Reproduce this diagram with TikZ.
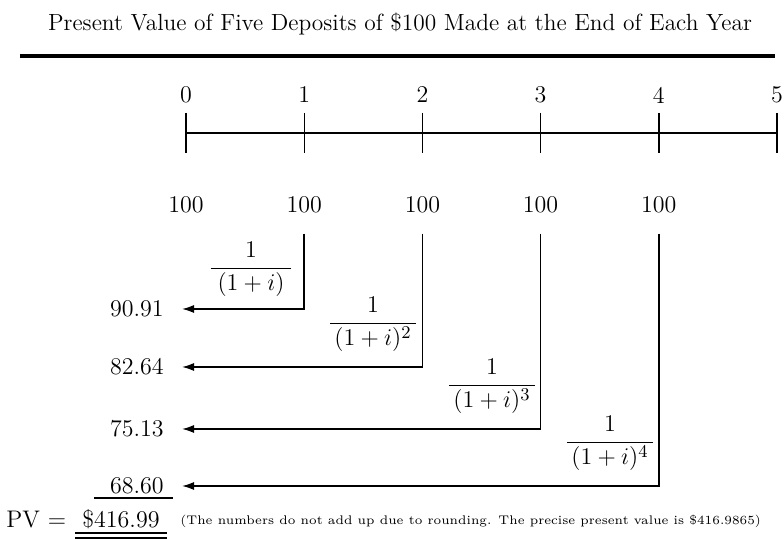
\documentclass[tikz,border=0pt]{standalone}
\usepackage{tikz}
\usetikzlibrary{arrows.meta,positioning}
\tikzset{
  headline/.style={
    inner sep = 0pt,
    font = \fontsize{11.7}{13}\selectfont
  },
  amount/.style={
    inner sep = 0pt,
    font = \fontsize{12}{14}\selectfont
  },
  discount/.style={
    inner sep = 0pt,
    anchor = base,
    font = \fontsize{12.5}{14}\selectfont
  },
  remark/.style={
    inner sep = 0pt,
    anchor = base west,
    font = \fontsize{6.25}{7.5}\selectfont
  },
  axisline/.style={
    line width = 0.7pt
  },
  flow/.style={
    line width = 0.75pt,
    -{Latex[length=6pt,width=4pt]}
  },
}

\begin{document}
\begin{tikzpicture}[x=0.5pt,y=-0.5pt]
  \useasboundingbox (0,0) rectangle (784,539);

  \node[headline] (head) at (400,24) {Present Value of Five Deposits of \$100 Made at the End of Each Year};
  \coordinate (ruleL) at (20,56);
  \coordinate (ruleR) at (775,56);
  \draw[line width=2pt] (ruleL) -- (ruleR);

  % time line
  \def\dx{118.2}
  \coordinate (start) at (186,133);
  \coordinate (finish) at (777,133);
  \draw[axisline] (start) -- (finish);
  \foreach \k in {0,...,5}{
    \coordinate (tk\k) at (186+\k*\dx,133);
    \draw[axisline] ([yshift=10pt]tk\k) -- ([yshift=-10pt]tk\k);
    \node[amount] (yr\k) at (186+\k*\dx,95) {\k};
  }

  % deposits
  \foreach \k in {0,...,4}
    \node[amount] (cf\k) at (186+\k*\dx,205) {100};

  % discounted values
  \node[amount, anchor=east] (pv1) at (164,309) {90.91};
  \node[amount, anchor=east] (pv2) at (164,367) {82.64};
  \node[amount, anchor=east] (pv3) at (164,429) {75.13};
  \node[amount, anchor=east] (pv4) at (164,486) {68.60};

  \foreach \k in {1,...,4}
    \draw[flow] ([yshift=-10pt]cf\k.south) |- ([xshift=9pt]pv\k.east);

  \node[discount] (r1) at (251,274.2) {$\displaystyle\frac{1}{\;(1+i)\;}$};
  \node[discount] (r2) at (373,329.2) {$\displaystyle\frac{1}{\,(1+i)^{2}\,}$};
  \node[discount] (r3) at (492,391.2) {$\displaystyle\frac{1}{\,(1+i)^{3}\,}$};
  \node[discount] (r4) at (610,448.2) {$\displaystyle\frac{1}{\,(1+i)^{4}\,}$};

  % sum
  \draw[axisline] (94,498) -- (173,498);
  \node[amount, anchor=west] (pvlabel) at (6,520) {PV =};
  \node[amount, anchor=base] (total) at (121,528) {\$416.99};
  \draw[axisline] (75,533) -- (167,533);
  \draw[axisline] (75,538) -- (167,538);
  \node[remark] (note) at (180,525) {(The numbers do not add up due to rounding. The precise present value is \$416.9865)};
\end{tikzpicture}
\end{document}
